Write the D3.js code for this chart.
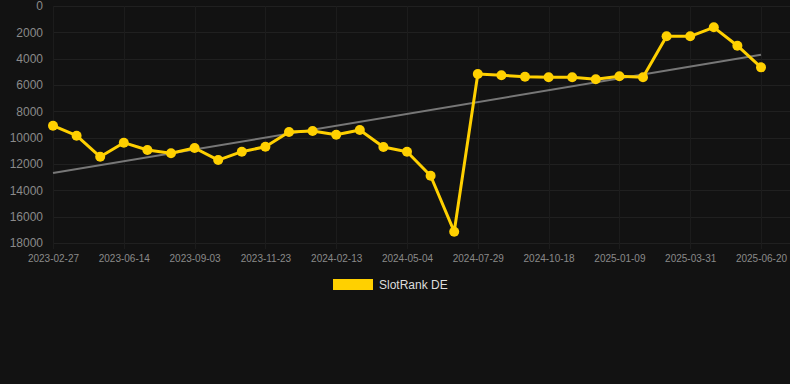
<!DOCTYPE html>
<html>
<head>
<meta charset="utf-8">
<script src="https://cdn.jsdelivr.net/npm/d3@7"></script>
<style>
  html, body { margin: 0; padding: 0; background: #121212; }
  svg { display: block; font-family: "Liberation Sans", Arial, sans-serif; }
</style>
</head>
<body>
<div id="chart"></div>
<script>
// rank data, one point per sample date
var dates = [
  "2023-02-27", "2023-04-04", "2023-05-10", "2023-06-14", "2023-07-11", "2023-08-07",
  "2023-09-03", "2023-09-30", "2023-10-27", "2023-11-23", "2023-12-20", "2024-01-17",
  "2024-02-13", "2024-03-11", "2024-04-07", "2024-05-04", "2024-06-01", "2024-06-30",
  "2024-07-29", "2024-08-25", "2024-09-21", "2024-10-18", "2024-11-14", "2024-12-12",
  "2025-01-09", "2025-02-05", "2025-03-04", "2025-03-31", "2025-04-27", "2025-05-24",
  "2025-06-20"
];
var ranks = [
  9090, 9850, 11450, 10380, 10940, 11190,
  10785, 11700, 11065, 10685, 9570, 9494,
  9775, 9418, 10709, 11065, 12890, 17140,
  5165, 5265, 5370, 5415, 5415, 5570,
  5340, 5415, 2300, 2300, 1620, 3015,
  4660
];
var yTicks = [0, 2000, 4000, 6000, 8000, 10000, 12000, 14000, 16000, 18000];
var seriesName = "SlotRank DE";

var width = 790, height = 384;
var m = { left: 53, right: 29, top: 6, bottom: 141 };

var svg = d3.select("#chart").append("svg")
    .attr("width", width)
    .attr("height", height);

var x = d3.scalePoint()
    .domain(dates)
    .range([m.left, width - m.right]);

var y = d3.scaleLinear()
    .domain([0, 18000])
    .range([m.top, height - m.bottom]);

var tickDates = dates.filter((d, i) => i % 3 == 0);

// grid
var grid = svg.append("g");
grid.selectAll("line.h")
  .data(yTicks)
  .enter().append("line")
    .attr("x1", m.left)
    .attr("x2", width)
    .attr("y1", d => Math.round(y(d)) + 0.5)
    .attr("y2", d => Math.round(y(d)) + 0.5)
    .attr("stroke", "#202020");
grid.selectAll("line.v")
  .data(tickDates)
  .enter().append("line")
    .attr("x1", d => Math.round(x(d)) + 0.5)
    .attr("x2", d => Math.round(x(d)) + 0.5)
    .attr("y1", m.top)
    .attr("y2", y(18000) + 6)
    .attr("stroke", "#1c1c1c");

// axes
var yAxis = svg.append("g")
    .attr("transform", "translate(" + (m.left - 10) + ",0)")
    .call(d3.axisLeft(y).tickValues(yTicks).tickSize(0).tickPadding(0).tickFormat(d3.format("d")));
yAxis.select(".domain").remove();
yAxis.selectAll("text")
    .attr("fill", "#8a8a8a")
    .style("font-size", "12px");

var xAxis = svg.append("g")
    .attr("transform", "translate(0," + (y(18000) + 10) + ")")
    .call(d3.axisBottom(x).tickValues(tickDates).tickSize(0).tickPadding(2));
xAxis.select(".domain").remove();
xAxis.selectAll("text")
    .attr("fill", "#8a8a8a")
    .style("font-size", "10px");

// trend line (least squares on index)
var n = ranks.length;
var mx = d3.mean(ranks, (d, i) => i);
var my = d3.mean(ranks);
var sxy = d3.sum(ranks, (d, i) => (i - mx) * (d - my));
var sxx = d3.sum(ranks, (d, i) => (i - mx) * (i - mx));
var slope = sxy / sxx;
var icpt = my - slope * mx;
var trend = [0, n - 1].map(i => [dates[i], icpt + slope * i]);

svg.append("path")
    .datum(trend)
    .attr("fill", "none")
    .attr("stroke", "#777")
    .attr("stroke-width", 2)
    .attr("d", d3.line().x(d => x(d[0])).y(d => y(d[1])));

// series
var yellow = "#ffd000";
svg.append("path")
    .datum(ranks)
    .attr("fill", "none")
    .attr("stroke", yellow)
    .attr("stroke-width", 3)
    .attr("stroke-linejoin", "round")
    .attr("d", d3.line().x((d, i) => x(dates[i])).y(d => y(d)));

svg.selectAll("circle")
  .data(ranks)
  .enter().append("circle")
    .attr("cx", (d, i) => x(dates[i]))
    .attr("cy", d => y(d))
    .attr("r", 5)
    .attr("fill", yellow);

// legend
var lg = svg.append("g").attr("transform", "translate(333,279)");
lg.append("rect")
    .attr("width", 40)
    .attr("height", 11)
    .attr("fill", yellow);
lg.append("text")
    .attr("x", 46)
    .attr("y", 5.5)
    .attr("dy", "0.35em")
    .attr("fill", "#ddd")
    .style("font-size", "12px")
    .text(seriesName);
</script>
</body>
</html>
